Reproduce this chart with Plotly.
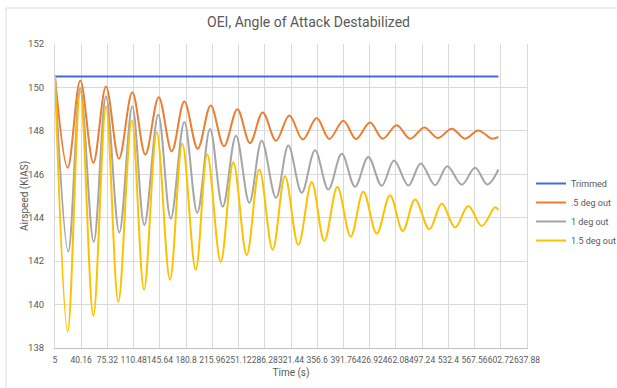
import plotly.graph_objects as go

# Time axis labels (s)
time_ticks = ["5", "40.16", "75.32", "110.48", "145.64", "180.8", "215.96", "251.12",
              "286.28", "321.44", "356.6", "391.76", "426.92", "462.08", "497.24",
              "532.4", "567.56", "602.72", "637.88"]

# Trimmed case: constant airspeed
trim_t = [5, 599.5]
trim_v = [150.5, 150.5]

# .5 deg out: successive peaks/troughs (time s, airspeed KIAS)
half_t = [5, 22.0, 38.9, 56.4, 73.4, 90.8, 108.7, 126.1, 144.1, 161.5, 178.4, 196.4,
          213.8, 231.6, 249.5, 266.5, 283.5, 301.4, 319.2, 337.2, 355.9, 372.8, 391.6,
          408.6, 427.4, 444.4, 463.2, 481.1, 500.2, 518.2, 537.0, 554.8, 572.6, 590.6, 599.5]
half_v = [150.5, 146.30, 150.32, 146.53, 150.04, 146.72, 149.78, 146.91, 149.55, 147.06,
          149.35, 147.18, 149.17, 147.29, 149.00, 147.44, 148.85, 147.55, 148.71, 147.60,
          148.59, 147.63, 148.47, 147.63, 148.39, 147.64, 148.26, 147.64, 148.16, 147.67,
          148.10, 147.64, 148.02, 147.64, 147.72]

# 1 deg out
one_t = [5, 22.8, 38.9, 56.9, 73.4, 91.2, 108.7, 124.8, 143.5, 160.2, 178.4, 195.8,
         212.9, 229.9, 247.7, 265.6, 282.2, 301.4, 317.9, 335.8, 353.7, 371.5, 389.5,
         407.3, 425.1, 443.1, 459.6, 478.8, 495.4, 514.6, 531.1, 550.4, 568.2, 584.7, 599.5]
one_v = [150.5, 142.44, 149.97, 142.89, 149.58, 143.32, 149.12, 143.67, 148.74, 143.96,
         148.41, 144.23, 148.09, 144.51, 147.78, 144.69, 147.55, 144.92, 147.32, 145.15,
         147.11, 145.30, 146.94, 145.43, 146.80, 145.47, 146.63, 145.48, 146.50, 145.50,
         146.37, 145.52, 146.30, 145.53, 146.22]

# 1.5 deg out
onehalf_t = [5, 22.0, 38.9, 56.4, 73.4, 89.9, 107.9, 124.4, 141.4, 159.2, 175.7, 193.7,
             209.1, 227.2, 244.1, 262.1, 279.0, 296.9, 313.4, 331.3, 349.2, 366.1, 383.6,
             401.5, 418.4, 436.4, 454.2, 471.3, 487.8, 507.0, 523.6, 541.4, 559.2, 577.2,
             595.0, 599.5]
onehalf_v = [150.5, 138.76, 149.81, 139.49, 149.12, 140.13, 148.48, 140.68, 147.93, 141.14,
             147.41, 141.60, 146.92, 141.97, 146.56, 142.28, 146.22, 142.52, 145.91, 142.75,
             145.64, 142.93, 145.41, 143.13, 145.20, 143.27, 145.03, 143.39, 144.84, 143.47,
             144.66, 143.55, 144.54, 143.62, 144.48, 144.35]

series = [
    ("Trimmed", trim_t, trim_v, "#4169E1", "linear"),
    (".5 deg out", half_t, half_v, "#ED7D31", "spline"),
    ("1 deg out", one_t, one_v, "#A5A5A5", "spline"),
    ("1.5 deg out", onehalf_t, onehalf_v, "#FFC000", "spline"),
]

FONT = "Roboto, Liberation Sans, sans-serif"
TXT = "#595959"
GRID = "#D9D9D9"

# plot area in pixels: x 55..527, y 44..348
L, R, T, B = 55, 527, 44, 348
PW, PH = R - L, B - T


def px(xp):
    return (xp - L) / PW


def py(yp):
    return (B - yp) / PH


fig = go.Figure()
for name, t, v, color, shape in series:
    fig.add_trace(go.Scatter(
        x=t, y=v, name=name, mode="lines",
        line=dict(color=color, width=2, shape=shape, smoothing=1.0),
    ))

fig.update_layout(
    width=617, height=388,
    margin=dict(l=L, r=617 - R, t=T, b=388 - B, autoexpand=False),
    paper_bgcolor="white", plot_bgcolor="white",
    font=dict(family=FONT, size=10, color=TXT),
    title=dict(text="OEI, Angle of Attack Destabilized", x=0.5, xref="container",
               y=1 - 22 / 388, yanchor="middle", xanchor="center",
               font=dict(size=14, color=TXT)),
    legend=dict(x=px(531), xanchor="left", y=py(212), yanchor="middle",
                font=dict(size=9, color=TXT), bgcolor="rgba(0,0,0,0)",
                itemwidth=30),
    shapes=[dict(type="rect", xref="paper", yref="paper",
                 x0=px(6), x1=px(640), y0=py(400), y1=py(8),
                 line=dict(color="#D9D9D9", width=1), layer="below")],
    annotations=[dict(text="Airspeed (KIAS)", textangle=-90, showarrow=False,
                      xref="paper", yref="paper", x=px(25), y=py(196),
                      xanchor="center", yanchor="middle",
                      font=dict(size=10, color=TXT))],
)

fig.update_xaxes(
    range=[5, 637.88], tickmode="array",
    tickvals=[float(s) for s in time_ticks], ticktext=time_ticks,
    tickangle=0, tickfont=dict(size=8.5), showgrid=True, gridcolor=GRID, gridwidth=1,
    showline=True, linecolor="#BFBFBF", linewidth=1, zeroline=False,
    ticks="", ticklabelstandoff=4,
    title=dict(text="Time (s)", font=dict(size=10, color=TXT), standoff=4),
)
fig.update_yaxes(
    range=[138, 152], dtick=2, showgrid=True, gridcolor=GRID, gridwidth=1,
    showline=True, linecolor=GRID, mirror=True, zeroline=False,
    ticks="", ticklabelstandoff=8, tickfont=dict(size=9.5),
)

fig.write_html("out.html")
